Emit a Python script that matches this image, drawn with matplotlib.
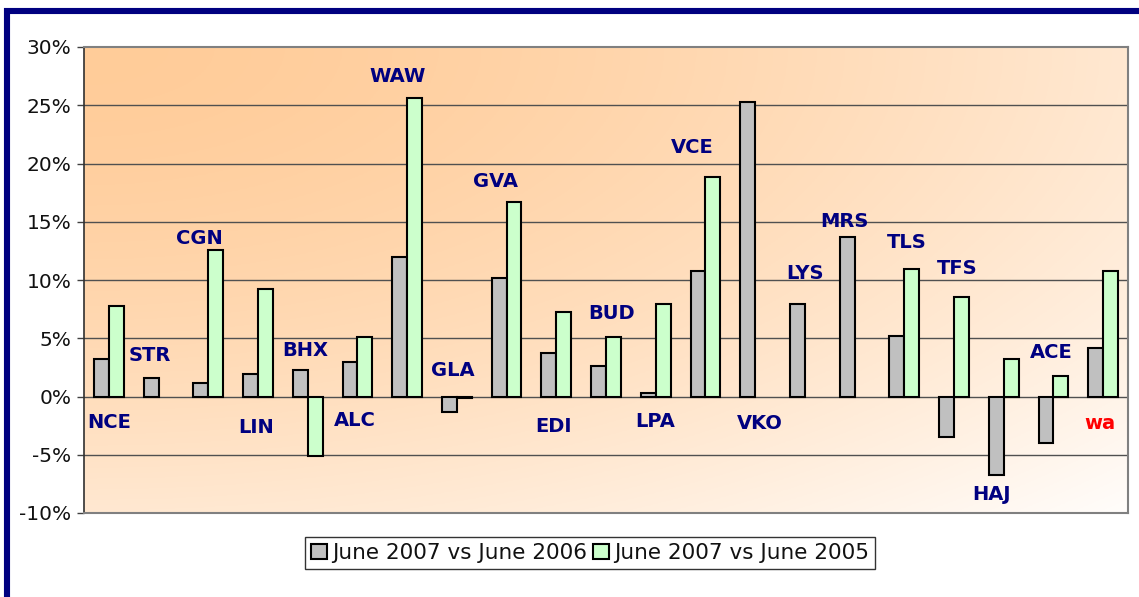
import numpy as np
import matplotlib
matplotlib.use("Agg")
import matplotlib.pyplot as plt
from matplotlib.patches import Rectangle
from matplotlib.ticker import FuncFormatter

airports = ["NCE", "STR", "CGN", "LIN", "BHX", "ALC", "WAW", "GLA", "GVA", "EDI", "BUD",
            "LPA", "VCE", "VKO", "LYS", "MRS", "TLS", "TFS", "HAJ", "ACE", "wa"]
vs_2006 = [3.2, 1.6, 1.15, 1.95, 2.3, 2.95, 11.95, -1.3, 10.15, 3.75, 2.6,
           0.3, 10.8, 25.25, 7.9, 13.7, 5.2, -3.5, -6.7, -4.0, 4.2]
vs_2005 = [7.75, np.nan, 12.55, 9.2, -5.1, 5.15, 25.6, -0.15, 16.7, 7.25, 5.15,
           7.9, 18.8, np.nan, np.nan, np.nan, 10.95, 8.55, 3.25, 1.8, 10.8]
# label placement (offset from group centre, value level in %)
label_dx = [0.0, -0.17, -0.17, -0.04, -0.05, -0.06, -0.2, -0.09, -0.23, -0.05, 0.12,
            -0.02, -0.27, 0.1, 0.0, -0.2, 0.04, 0.07, -0.25, -0.04, -0.07]
label_y = [-2.2, 3.5, 13.6, -2.7, 3.95, -2.1, 27.5, 2.25, 18.45, -2.6, 7.1,
           -2.17, 21.4, -2.3, 10.55, 15.05, 13.2, 10.95, -8.4, 3.8, -2.35]
series_names = ["June 2007 vs June 2006", "June 2007 vs June 2005"]
yticks = [-10, -5, 0, 5, 10, 15, 20, 25, 30]

W, H = 1139, 597
fig = plt.figure(figsize=(W / 100, H / 100), dpi=100)
fig.patch.set_facecolor("white")

# navy frame (cut at right and bottom)
fig.patches.append(Rectangle((7 / W, -0.1), 1.2, (1 - 11 / H) + 0.1, transform=fig.transFigure,
                             fill=False, edgecolor="#000080", linewidth=4.4, zorder=0))

ax = fig.add_axes([84 / W, 1 - 513 / H, (1128 - 84) / W, (513 - 47) / H])
ax.set_xlim(-0.5, len(airports) - 0.5)
ax.set_ylim(-10, 30)

# diagonal gradient background (orange top-left -> white bottom-right)
nx, ny = 400, 200
xx, yy = np.meshgrid(np.linspace(0, 1, nx), np.linspace(0, 1, ny))
t = ((xx ** 2 + yy ** 2) / 2.0) ** 0.8
t = np.clip(t, 0, 1)
c0 = np.array([255, 204, 153]) / 255.0
c1 = np.array([255, 253, 251]) / 255.0
img = c0[None, None, :] * (1 - t[..., None]) + c1[None, None, :] * t[..., None]
ax.imshow(img, extent=[0, 1, 0, 1], transform=ax.transAxes, aspect="auto",
          zorder=0, origin="upper")

for y in yticks[1:-1]:
    ax.axhline(y, color="#505050", lw=1.0, zorder=1)

x = np.arange(len(airports))
bw = 0.3
ax.bar(x - bw / 2, vs_2006, bw, color="#C0C0C0", edgecolor="black", linewidth=1.5,
       zorder=3, label=series_names[0])
ax.bar(x + bw / 2, vs_2005, bw, color="#CCFFCC", edgecolor="black", linewidth=1.5,
       zorder=3, label=series_names[1])

for i, name in enumerate(airports):
    ax.text(i + label_dx[i], label_y[i], name, ha="center", va="center",
            fontsize=14, fontweight="bold",
            color="#FF0000" if name == "wa" else "#000080", zorder=5)

ax.set_yticks(yticks)
ax.yaxis.set_major_formatter(FuncFormatter(lambda v, p: f"{v:.0f}%"))
ax.tick_params(axis="y", length=5, width=1, color="#404040", labelsize=14.5,
               labelcolor="#111111", pad=4)
ax.set_xticks([])
for s in ["top", "right", "bottom"]:
    ax.spines[s].set_color("#808080")
    ax.spines[s].set_linewidth(1.5)
ax.spines["left"].set_color("#303030")
ax.spines["left"].set_linewidth(1.2)

leg = fig.legend(loc="center", bbox_to_anchor=(590 / W, 1 - 553 / H), ncol=2,
                 frameon=True, fancybox=False, edgecolor="black", fontsize=15.5,
                 handlelength=0.75, handleheight=0.75, handletextpad=0.2,
                 columnspacing=0.3, borderpad=0.3, borderaxespad=0)
leg.get_frame().set_linewidth(1.0)
for txt in leg.get_texts():
    txt.set_color("#111111")

fig.savefig("out.png", dpi=100, facecolor="white")
